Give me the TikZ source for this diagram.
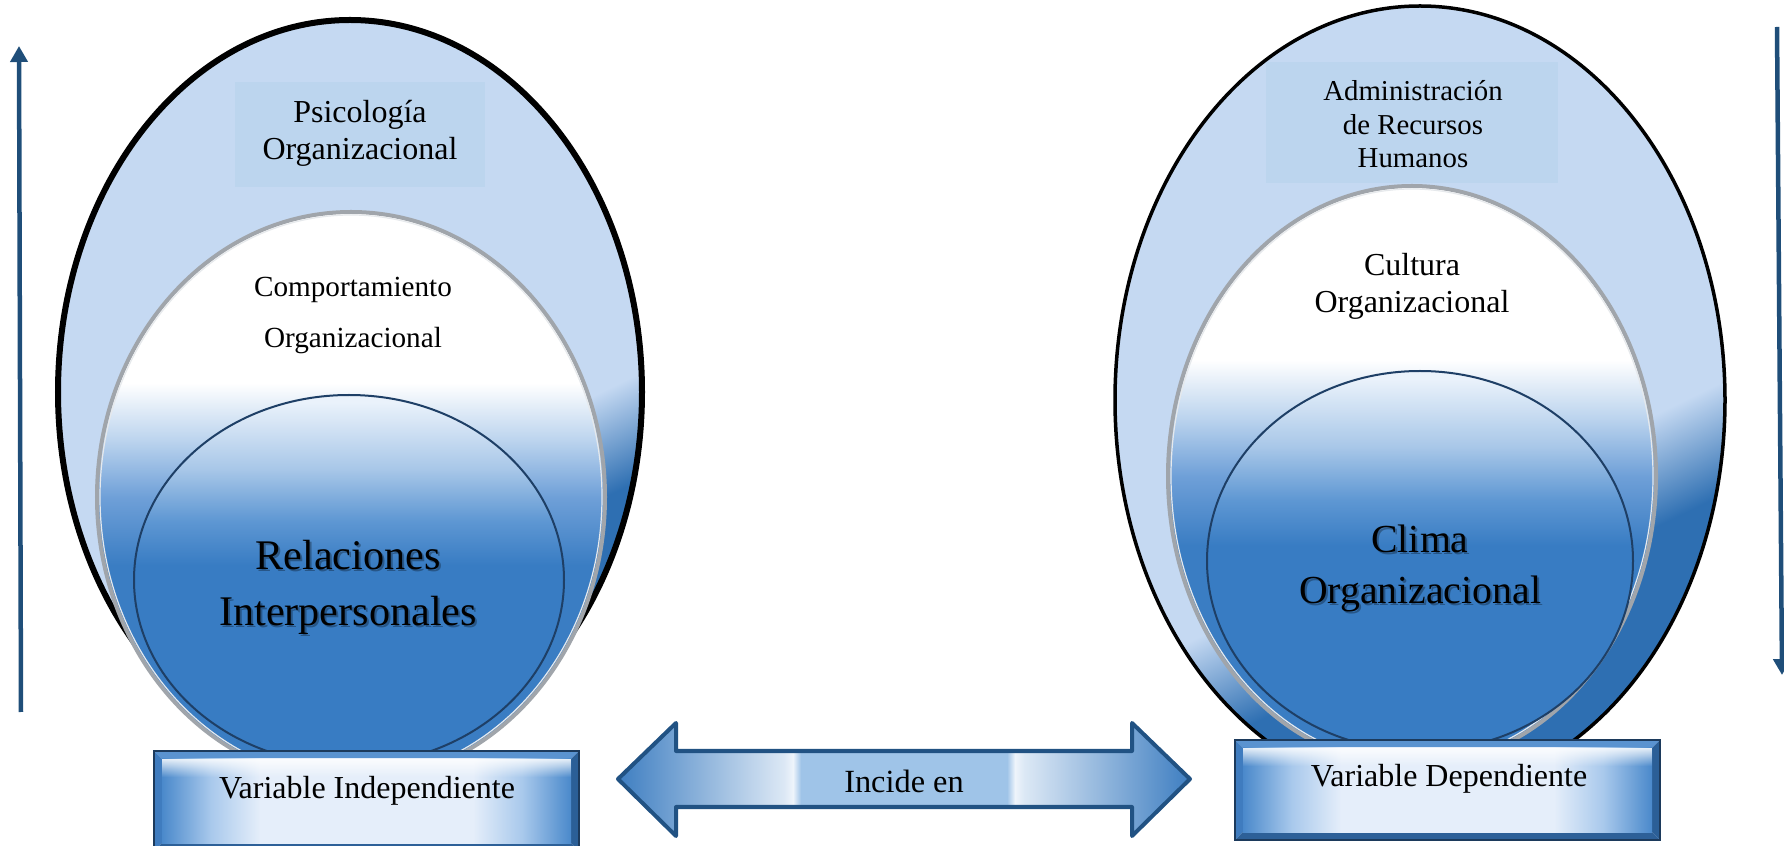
\documentclass[tikz,border=0pt]{standalone}
\usepackage{fontspec}
\setmainfont{Liberation Serif}
\usetikzlibrary{arrows.meta,fadings}

% palette
\definecolor{obLight}{HTML}{C5D9F2}
\definecolor{obDark}{HTML}{2E6FB2}
\definecolor{tagFill}{HTML}{BCD5EE}
\definecolor{mBlue}{HTML}{3A7DC3}
\definecolor{mMid}{HTML}{6FA0D8}
\definecolor{mLight}{HTML}{BCD4EE}
\definecolor{iBlue}{HTML}{387CC3}
\definecolor{iTwo}{HTML}{5E97D3}
\definecolor{iThree}{HTML}{A8C7E8}
\definecolor{iFour}{HTML}{EAF2FB}
\definecolor{navy}{HTML}{1F4E79}
\definecolor{rimGray}{HTML}{A0A5AB}
\definecolor{rimLight}{HTML}{E6E9EC}
\definecolor{innerLine}{HTML}{1E3F66}
\definecolor{bxEdge}{HTML}{4A89CB}
\definecolor{bxMid}{HTML}{A9C9EC}
\definecolor{bxLight}{HTML}{E5EEFA}
\definecolor{bxBorder}{HTML}{1C3A5C}
\definecolor{bvTop}{HTML}{5A93D0}
\definecolor{bvLeft}{HTML}{3F7CBF}
\definecolor{bvRight}{HTML}{2B5F97}
\definecolor{bvBottom}{HTML}{2D6098}
\definecolor{arBlue}{HTML}{3E7EC1}
\definecolor{arLight}{HTML}{DCE8F5}
\definecolor{arBright}{HTML}{EEF4FB}
\definecolor{arMid}{HTML}{9FC4E8}
\definecolor{arLine}{HTML}{215283}

% fills
\pgfdeclareverticalshading{outershade}{100bp}{color(0bp)=(obDark); color(35bp)=(obDark); color(42bp)=(obLight); color(100bp)=(obLight)}
\pgfdeclareverticalshading{midshade}{100bp}{color(0bp)=(mBlue); color(44bp)=(mBlue); color(50bp)=(mMid); color(55bp)=(mLight); color(60bp)=(white); color(100bp)=(white)}
\pgfdeclareverticalshading{innershade}{100bp}{color(0bp)=(iBlue); color(52bp)=(iBlue); color(58bp)=(iTwo); color(65bp)=(iThree); color(74bp)=(iFour); color(100bp)=(iFour)}
\pgfdeclarehorizontalshading{boxface}{100bp}{color(0bp)=(bxEdge); color(25bp)=(bxEdge); color(31bp)=(bxMid); color(37bp)=(bxLight); color(63bp)=(bxLight); color(69bp)=(bxMid); color(75bp)=(bxEdge); color(100bp)=(bxEdge)}
\pgfdeclarehorizontalshading{arrowshade}{100bp}{color(0bp)=(arBlue); color(25bp)=(arBlue); color(39.5bp)=(arLight); color(40.3bp)=(arBright); color(41bp)=(arMid); color(59bp)=(arMid); color(59.7bp)=(arBright); color(60.5bp)=(arLight); color(75bp)=(arBlue); color(100bp)=(arBlue)}
\tikzfading[name=fadedown, top color=transparent!0, bottom color=transparent!100]

\begin{document}
\begin{tikzpicture}[x=0.01cm, y=-0.01cm,
  txt/.style={anchor=base, inner sep=0pt, text=black},
  fsmall/.style={font=\fontsize{8.2}{10}\selectfont},
  fmid/.style={font=\fontsize{9.1}{11}\selectfont},
  fcomp/.style={font=\fontsize{8.3}{10}\selectfont},
  fbig/.style={font=\fontsize{12}{14}\selectfont},
  fclima/.style={font=\fontsize{11.3}{13}\selectfont},
  glow/.style={txt, text=black, text opacity=0.3},
  rim/.style={rimGray, line width=0.04cm},
  rimhi/.style={rimLight, line width=0.012cm},
  innerrim/.style={innerLine, line width=0.02cm},
  upright/.style={navy, line width=0.045cm, -{Triangle[width=0.17cm, length=0.16cm]}},
  varbox/.pic={
    \fill[bvTop] (0,0) -- (425,0) -- (417,8) -- (8,8) -- cycle;
    \fill[bvLeft] (0,0) -- (8,8) -- (8,92) -- (0,100) -- cycle;
    \fill[bvRight] (425,0) -- (425,100) -- (417,92) -- (417,8) -- cycle;
    \fill[bvBottom] (0,100) -- (8,92) -- (417,92) -- (425,100) -- cycle;
    \shade[shading=boxface] (8,8) rectangle (417,92);
    \fill[white, path fading=fadedown, opacity=0.85] (8,8) rectangle (417,26);
    \draw[bxBorder, line width=0.025cm] (0,0) rectangle (425,100);
  }]
\useasboundingbox (0,0) rectangle (1784,846);

% ---------- left group: independent variable ----------
\shade[shading=outershade, shading angle=26] (350,392) ellipse [x radius=292, y radius=372];
\draw[line width=0.06cm] (350,392) ellipse [x radius=292, y radius=372];
\fill[tagFill] (235,82) rectangle (485,187);

\shade[shading=midshade] (351,497) ellipse [x radius=254, y radius=285];
\draw[rim] (351,497) ellipse [x radius=254, y radius=285];
\draw[rimhi] (351,497) ellipse [x radius=251, y radius=282];

\shade[shading=innershade] (349,580) ellipse [x radius=215, y radius=185];
\draw[innerrim] (349,580) ellipse [x radius=215, y radius=185];

\node[txt, fmid] (psiA) at (360,123) {Psicología};
\node[txt, fmid] (psiB) at (360,160) {Organizacional};
\node[txt, fcomp] (comA) at (353,297) {Comportamiento};
\node[txt, fcomp] (comB) at (353,348) {Organizacional};
\node[glow, fbig] (relAs) at (350,572) {Relaciones};
\node[glow, fbig] (relBs) at (350,628) {Interpersonales};
\node[txt, fbig] (relA) at (348,570) {Relaciones};
\node[txt, fbig] (relB) at (348,626) {Interpersonales};

\pic at (154,751) {varbox};
\node[txt, fmid] (vi) at (367,798) {Variable Independiente};

% ---------- right group: dependent variable ----------
\shade[shading=outershade, shading angle=26] (1420,400) ellipse [x radius=305, y radius=394];
\draw[line width=0.035cm] (1420,400) ellipse [x radius=305, y radius=394];
\fill[tagFill] (1266,62) rectangle (1558,183);

\shade[shading=midshade] (1412,476) ellipse [x radius=244, y radius=290];
\draw[rim] (1412,476) ellipse [x radius=244, y radius=290];
\draw[rimhi] (1412,476) ellipse [x radius=241, y radius=287];

\shade[shading=innershade] (1420,561) ellipse [x radius=213, y radius=190];
\draw[innerrim] (1420,561) ellipse [x radius=213, y radius=190];

\node[txt, fsmall] (admA) at (1413,101) {Administración};
\node[txt, fsmall] (admB) at (1413,135) {de Recursos};
\node[txt, fsmall] (admC) at (1413,168) {Humanos};
\node[txt, fmid] (culA) at (1412,276) {Cultura};
\node[txt, fmid] (culB) at (1412,313) {Organizacional};
\node[glow, fclima] (cliAs) at (1422,555) {Clima};
\node[glow, fclima] (cliBs) at (1422,606) {Organizacional};
\node[txt, fclima] (cliA) at (1420,553) {Clima};
\node[txt, fclima] (cliB) at (1420,604) {Organizacional};

\pic at (1235,740) {varbox};
\node[txt, fmid] (vd) at (1449,787) {Variable Dependiente};

% ---------- double block arrow between the variables ----------
\coordinate (tipL) at (618,779);
\coordinate (tipR) at (1190,779);
\shadedraw[shading=arrowshade, draw=arLine, line width=0.04cm, line join=round]
  (tipL) -- (676,723) -- (676,751) -- (1132,751) -- (1132,723) -- (tipR)
  -- (1132,836) -- (1132,807) -- (676,807) -- (676,836) -- cycle;
\node[txt, font=\fontsize{9.2}{11}\selectfont] (inc) at (904,792) {Incide en};

% ---------- side arrows ----------
\coordinate (upS) at (21,712);
\coordinate (upE) at (19,46);
\coordinate (dnS) at (1777,27);
\coordinate (dnE) at (1782,675);
\draw[upright] (upS) -- (upE);
\draw[upright] (dnS) -- (dnE);
\end{tikzpicture}
\end{document}
